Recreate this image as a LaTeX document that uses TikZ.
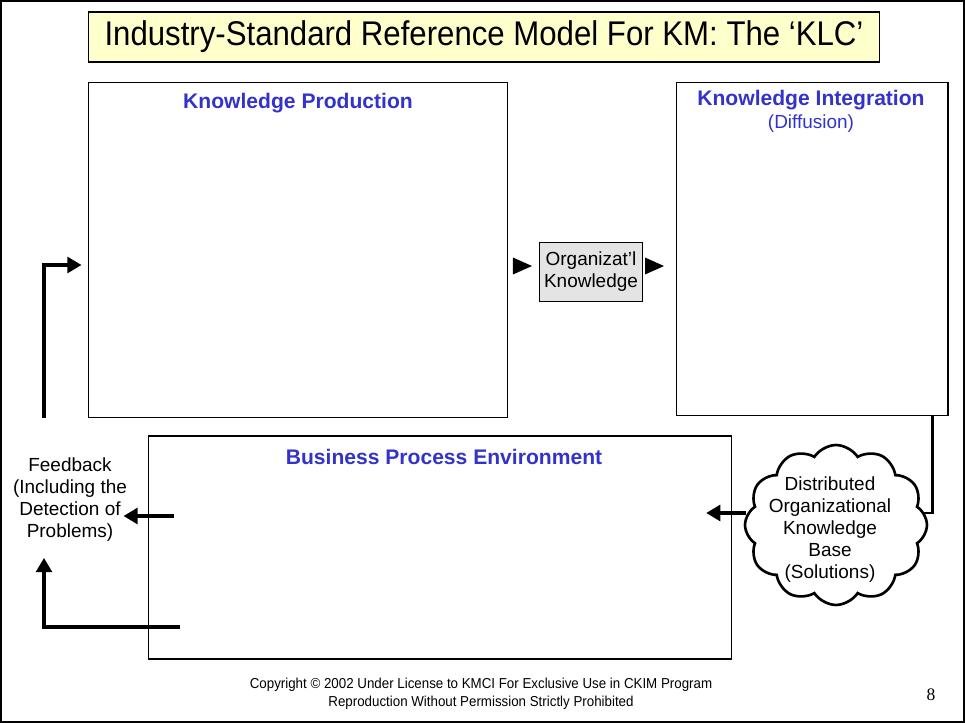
\documentclass[tikz,border=0pt]{standalone}
\usepackage{fontspec}
\setmainfont{Liberation Sans}
\newfontfamily\pagefont{Liberation Serif}
\usepackage{graphicx}
\usepackage{tikz}
\usetikzlibrary{arrows.meta,shapes.symbols,positioning}

\definecolor{headblue}{RGB}{51,51,204}
\definecolor{titlefill}{RGB}{255,255,204}
\definecolor{orgfill}{RGB}{228,228,228}

\begin{document}
\begin{tikzpicture}[x = 0.02cm, y = -0.02cm,
    box/.style = {draw, line width = 0.6pt, inner sep = 0pt},
    head/.style = {text = headblue, font = \fontsize{12}{14}\selectfont\bfseries},
    txt/.style = {align = center, font = \fontsize{10.8}{12.5}\selectfont},
    fb/.style = {line width = 1.8pt, -{Triangle[length = 8pt, width = 9pt]}}]
\useasboundingbox (0,0) rectangle (965,723);
\draw[line width = 0.6pt] (1,1) rectangle (964,722);

\node[box, fill = titlefill, minimum width = 15.84cm, minimum height = 1cm] (title) at (484,37)
    {\fontsize{19.5}{22}\selectfont\scalebox{0.91}[1]{Industry-Standard Reference Model For KM: The ‘KLC’}};

\node[box, minimum width = 8.4cm, minimum height = 6.72cm] (prod) at (298,250) {};
\node[box, minimum width = 5.44cm, minimum height = 6.68cm] (integ) at (812,249) {};
\node[box, minimum width = 11.68cm, minimum height = 4.46cm] (biz) at (440,547.5) {};
\node[box, fill = orgfill, txt, minimum width = 2.06cm, minimum height = 1.18cm] (org) at (591,272)
    {Organizat'l\\Knowledge};

\node[head] (prodhead) at (298,103) {Knowledge Production};
\node[head] (integhead) at (811,100) {Knowledge Integration};
\node[txt, text = headblue] (diffusion) at (811,124) {(Diffusion)};
\node[head] (bizhead) at (444,457) {Business Process Environment};

\node[txt] (feedback) at (70,500) {Feedback\\(Including the\\Detection of\\Problems)};

\node[cloud, draw, cloud puffs = 12, cloud puff arc = 115, aspect = 1.15, line width = 1.5pt,
    minimum width = 3.64cm, minimum height = 3.2cm] (cloud) at (836,525) {};
\node[txt] (cloudtext) at (830,530) {Distributed\\Organizational\\Knowledge\\Base\\(Solutions)};

\coordinate (fbstart) at (44,418);

\fill ([xshift = -0.14cm, yshift = 0.12cm]org.west) -- ++(-0.38cm, 0.17cm) -- ++(0,-0.34cm) -- cycle;
\fill ([xshift = 0.42cm, yshift = 0.12cm]org.east) -- ++(-0.38cm, 0.17cm) -- ++(0,-0.34cm) -- cycle;

\draw[fb] (fbstart) |- ([xshift = -0.12cm, yshift = -0.3cm]prod.west);
\draw[fb] ([xshift = 0.52cm, yshift = 0.63cm]biz.west) -- ++(-1cm,0);
\draw[fb] ([xshift = 0.64cm, yshift = -1.59cm]biz.west) -| ([xshift = -0.52cm, yshift = -0.2cm]feedback.south);
\draw[line width = 1.3pt] ([xshift = -0.32cm]integ.south east) |- ([xshift = -0.1cm, yshift = 0.24cm]cloud.east);
\draw[fb] ([xshift = 0.05cm, yshift = 0.24cm]cloud.west) -- ++(-0.8cm,0);

\node[align = center, font = \fontsize{8.2}{10.2}\selectfont] (copyright) at (481,694)
    {\scalebox{0.925}[1]{Copyright © 2002 Under License to KMCI For Exclusive Use in CKIM Program}\\
     \scalebox{0.925}[1]{Reproduction Without Permission Strictly Prohibited}};
\node[font = \pagefont\fontsize{10}{12}\selectfont] (pagenum) at (931,695) {8};
\end{tikzpicture}
\end{document}
